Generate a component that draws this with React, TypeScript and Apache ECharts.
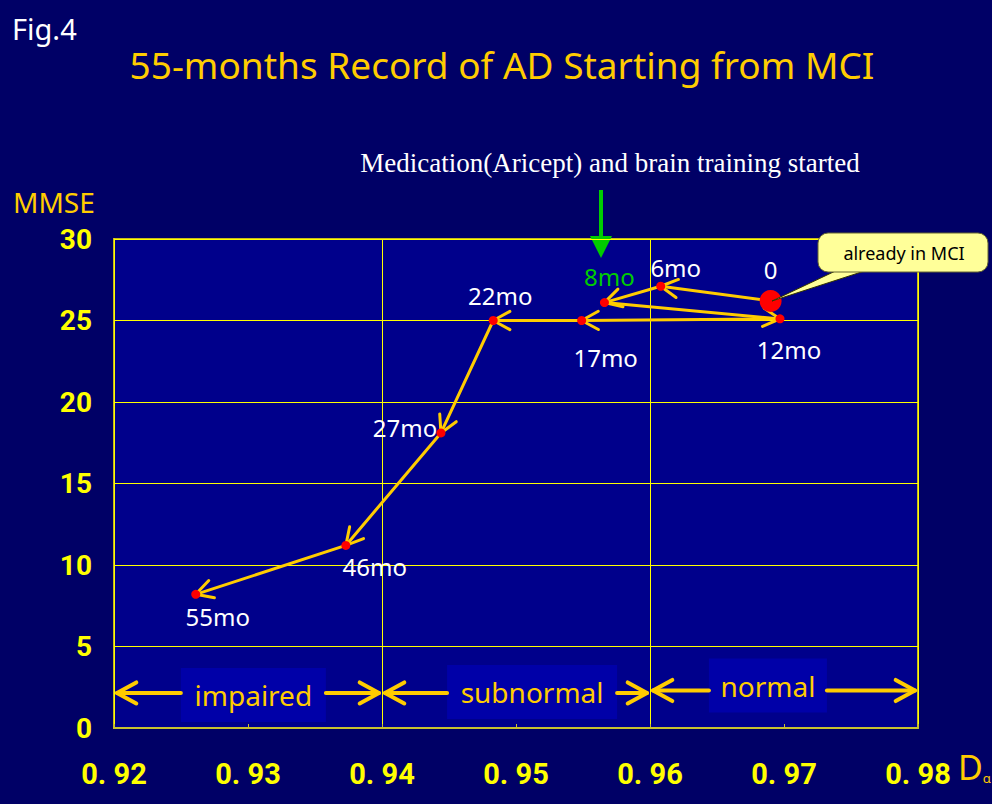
import React, { useEffect, useRef } from "react";
import * as echarts from "echarts";

// ---- data ----
const stages = ["0", "6mo", "8mo", "12mo", "17mo", "22mo", "27mo", "46mo", "55mo"];
const dAlpha = [0.969, 0.9608, 0.9566, 0.9697, 0.9549, 0.9483, 0.9444, 0.9373, 0.9261];
const mmse = [26.2, 27.1, 26.1, 25.1, 25.0, 25.0, 18.1, 11.2, 8.2];

const xTicks = [0.92, 0.93, 0.94, 0.95, 0.96, 0.97, 0.98];
const yTicks = [0, 5, 10, 15, 20, 25, 30];

const bandNames = ["impaired", "subnormal", "normal"];
const bandStart = [0.92, 0.94, 0.96];
const bandEnd = [0.94, 0.96, 0.98];
const bandLevel = [2.15, 2.15, 2.3];
const bandLabelX = [0.9304, 0.9512, 0.9688];

// ---- styling / layout (not data) ----
const labelOffsets = [
  [0, -31], [15, -19], [5, -26], [9, 31], [24, 37], [7, -25], [-36, -5], [29, 21], [22, 22],
];
const bandBoxW = [145, 170, 118];
const bandBoxH = [54, 54, 54];
const bandBoxDy = [2, -1, -5];

const GOLD = "#FFCC00";
const YEL = "#FFFF00";
const SANS = "'Noto Sans', 'DejaVu Sans', sans-serif";
const NARROW = "Roboto, 'Liberation Sans', sans-serif";

export default function App() {
  const ref = useRef<HTMLDivElement>(null);
  useEffect(() => {
    document.body.style.margin = "0";
    document.body.style.background = "#000066";
    const chart = echarts.init(ref.current!, null, { renderer: "svg" });

    const segData = stages.slice(0, -1).map((_, i) => [dAlpha[i], mmse[i], dAlpha[i + 1], mmse[i + 1]]);
    const pointData = stages.map((name, i) => ({
      name,
      value: [dAlpha[i], mmse[i]],
      symbolSize: i === 0 ? 22 : 9,
      label: {
        show: true,
        position: "inside",
        offset: labelOffsets[i],
        formatter: name,
        color: name === "8mo" ? "#00CC00" : "#FFFFFF",
        textBorderWidth: 0,
        textBorderColor: "transparent",
        fontSize: 24,
        fontFamily: SANS,
      },
    }));
    const bandData = bandNames.map((_, i) => [bandStart[i], bandEnd[i], bandLevel[i], bandLabelX[i], i]);

    const arrowHead = (tx: number, ty: number, fx: number, fy: number, L: number, th: number) => {
      const a = Math.atan2(fy - ty, fx - tx);
      return [
        [tx + L * Math.cos(a + th), ty + L * Math.sin(a + th)],
        [tx, ty],
        [tx + L * Math.cos(a - th), ty + L * Math.sin(a - th)],
      ];
    };

    chart.setOption({
      animation: false,
      backgroundColor: "#000066",
      grid: {
        left: 114, right: 74, top: 239, bottom: 76,
        show: true, backgroundColor: "#00008B", borderColor: "#C8B820", borderWidth: 2,
      },
      xAxis: [
        {
          type: "value", min: 0.92, max: 0.98, interval: 0.01,
          axisLine: { show: true, onZero: false, lineStyle: { color: "#C8C030", width: 2 } },
          axisTick: { show: true, inside: true, length: 4, lineStyle: { color: "#C8C030" } },
          axisLabel: {
            color: YEL, fontFamily: NARROW, fontWeight: "bold", fontSize: 29, margin: 31,
            formatter: (v: number) => v.toFixed(2).replace(".", ". "),
            customValues: xTicks,
          },
          splitLine: { show: false },
        },
        {
          type: "value", min: 0.92, max: 0.98, interval: 0.02, position: "bottom",
          axisLine: { show: false }, axisTick: { show: false }, axisLabel: { show: false },
          splitLine: { show: true, lineStyle: { color: YEL, width: 1 } },
        },
      ],
      yAxis: {
        type: "value", min: 0, max: 30, interval: 5,
        axisLine: { show: true, lineStyle: { color: YEL, width: 1 } },
        axisTick: { show: false },
        axisLabel: {
          color: YEL, fontFamily: NARROW, fontWeight: "bold", fontSize: 28, margin: 22,
          customValues: yTicks,
        },
        splitLine: { show: true, lineStyle: { color: YEL, width: 1 } },
      },
      graphic: [
        { type: "text", left: 12, top: 14, style: { text: "Fig.4", fill: "#FFFFFF", fontSize: 29, fontFamily: SANS } },
        {
          type: "text", x: 502, y: 64,
          style: { text: "55-months Record of AD Starting from MCI", fill: GOLD, fontSize: 37, fontFamily: SANS, align: "center", verticalAlign: "middle" },
        },
        {
          type: "text", x: 610, y: 163,
          style: { text: "Medication(Aricept) and brain training started", fill: "#FFFFFF", fontSize: 27, fontFamily: "'Liberation Serif', 'DejaVu Serif', serif", align: "center", verticalAlign: "middle" },
        },
        {
          type: "text", x: 13, y: 202,
          style: { text: "MMSE", fill: GOLD, fontSize: 28, fontFamily: SANS, verticalAlign: "middle", lineHeight: 26 },
        },
        // green arrow
        { type: "line", shape: { x1: 601, y1: 190, x2: 601, y2: 242 }, style: { stroke: "#00CC00", lineWidth: 4 } },
        { type: "polygon", shape: { points: [[590, 236], [612, 236], [601, 258]] }, style: { fill: "#00CC00" } },
        // callout
        {
          type: "polygon", z: 50,
          shape: { points: [[846, 266], [880, 266], [772, 301]] },
          style: { fill: "#FFFF99", stroke: "#333300", lineWidth: 1 },
        },
        {
          type: "rect", z: 51,
          shape: { x: 818, y: 233, width: 170, height: 39, r: 10 },
          style: { fill: "#FFFF99", stroke: "#666633", lineWidth: 1 },
        },
        {
          type: "text", z: 52, x: 904, y: 253,
          style: { text: "already in MCI", fill: "#000000", fontSize: 18, fontFamily: SANS, align: "center", verticalAlign: "middle" },
        },
        // D alpha
        {
          type: "text", left: 958, top: 750,
          style: {
            text: "{d|D}{a|α}",
            rich: {
              d: { fill: GOLD, fontSize: 34, fontFamily: SANS, verticalAlign: "bottom" },
              a: { fill: GOLD, fontSize: 13, fontFamily: SANS, verticalAlign: "bottom" },
            },
          },
        },
      ],
      series: [
        {
          type: "custom",
          name: "bands",
          z: 3,
          encode: { x: [0, 1, 3], y: 2 },
          data: bandData,
          renderItem: (params: any, api: any) => {
            const i = api.value(4);
            const lvl = api.value(2);
            const p0 = api.coord([api.value(0), lvl]);
            const p1 = api.coord([api.value(1), lvl]);
            const pc = api.coord([api.value(3), lvl]);
            const y = p0[1];
            const w = bandBoxW[i];
            const h = bandBoxH[i];
            const bx0 = pc[0] - w / 2;
            const bx1 = pc[0] + w / 2;
            const by = y + bandBoxDy[i] - h / 2;
            const lx = p0[0] + 3;
            const rx = p1[0] - 3;
            const st = { stroke: GOLD, lineWidth: 4, fill: null, lineCap: "round", lineJoin: "round" };
            return {
              type: "group",
              children: [
                { type: "rect", shape: { x: bx0, y: by, width: w, height: h }, style: { fill: "#0000A8" } },
                { type: "line", shape: { x1: lx, y1: y, x2: bx0, y2: y }, style: st },
                { type: "line", shape: { x1: bx1, y1: y, x2: rx, y2: y }, style: st },
                { type: "polyline", shape: { points: arrowHead(lx, y, lx + 10, y, 22, 0.5) }, style: st },
                { type: "polyline", shape: { points: arrowHead(rx, y, rx - 10, y, 22, 0.5) }, style: st },
                {
                  type: "text",
                  style: {
                    text: bandNames[i], x: pc[0], y: y + bandBoxDy[i], fill: GOLD, fontSize: 28, fontFamily: SANS,
                    align: "center", verticalAlign: "middle",
                  },
                },
              ],
            };
          },
        },
        {
          type: "custom",
          name: "path",
          z: 4,
          encode: { x: [0, 2], y: [1, 3] },
          data: segData,
          renderItem: (params: any, api: any) => {
            const a = api.coord([api.value(0), api.value(1)]);
            const b = api.coord([api.value(2), api.value(3)]);
            const st = { stroke: GOLD, lineWidth: 3, fill: null, lineCap: "round", lineJoin: "round" };
            return {
              type: "group",
              children: [
                { type: "line", shape: { x1: a[0], y1: a[1], x2: b[0], y2: b[1] }, style: st },
                { type: "polyline", shape: { points: arrowHead(b[0], b[1], a[0], a[1], 19, 0.5) }, style: st },
              ],
            };
          },
        },
        {
          type: "scatter",
          name: "MMSE",
          z: 5,
          symbol: "circle",
          itemStyle: { color: "#FF0000", opacity: 1 },
          data: pointData,
        },
      ],
    });
    return () => chart.dispose();
  }, []);
  return <div ref={ref} style={{ position: "fixed", left: 0, top: 0, width: 992, height: 804 }} />;
}
